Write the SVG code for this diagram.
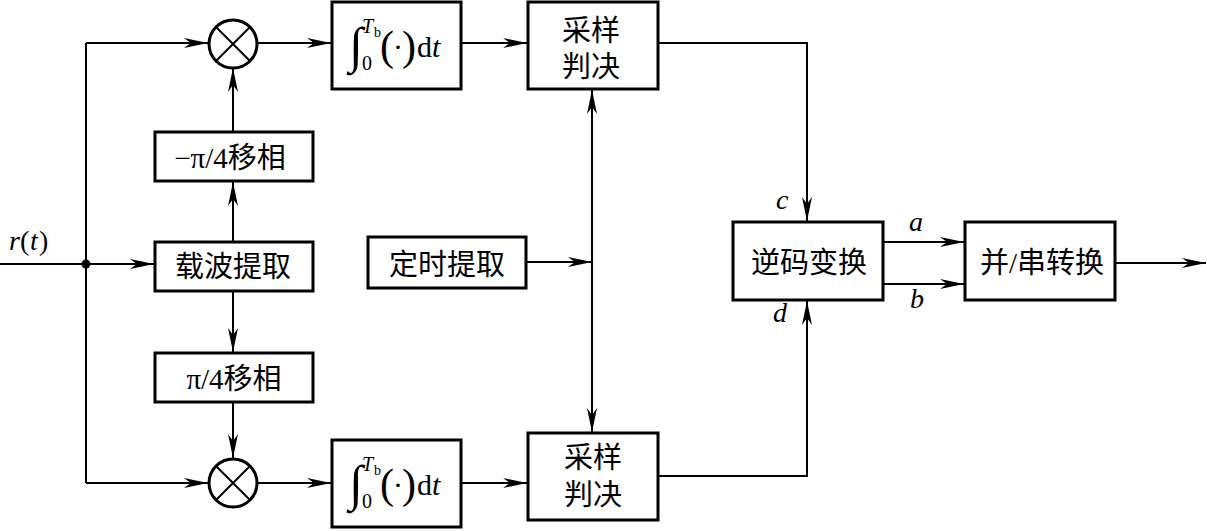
<svg xmlns="http://www.w3.org/2000/svg" width="1207" height="531" viewBox="0 0 1207 531">
<style>
.box{fill:#fff;stroke:#000;stroke-width:3}
.ln{fill:none;stroke:#000;stroke-width:2}
.cn{font-family:'Liberation Serif','Noto Sans CJK SC',serif;font-size:29px;fill:#000;text-anchor:middle}
.it{font-family:'Liberation Serif','DejaVu Serif',serif;font-style:italic;font-size:28px;fill:#000}
.rm{font-family:'Liberation Serif','DejaVu Serif',serif;fill:#000}
</style>
<defs>
<marker id="ar" markerUnits="userSpaceOnUse" markerWidth="26" markerHeight="12" viewBox="-24 -6 26 12" refX="0" refY="0" orient="auto">
<path d="M0,0 L-24,-5 L-17,0 L-24,5 Z" fill="#000"/>
</marker>
</defs>
<rect width="1207" height="531" fill="#fff"/>
<g id="connectors" class="ln">
<line x1="0" y1="264" x2="154" y2="264" marker-end="url(#ar)"/>
<line x1="86" y1="43" x2="86" y2="483"/>
<line x1="86" y1="43" x2="208" y2="43" marker-end="url(#ar)"/>
<line x1="86" y1="483" x2="208" y2="483" marker-end="url(#ar)"/>
<line x1="257" y1="43" x2="331" y2="43" marker-end="url(#ar)"/>
<line x1="257" y1="483" x2="331" y2="483" marker-end="url(#ar)"/>
<line x1="461" y1="43" x2="527" y2="43" marker-end="url(#ar)"/>
<line x1="461" y1="483" x2="527" y2="483" marker-end="url(#ar)"/>
<line x1="233" y1="242" x2="233" y2="182" marker-end="url(#ar)"/>
<line x1="233" y1="132" x2="233" y2="68" marker-end="url(#ar)"/>
<line x1="233" y1="291" x2="233" y2="352" marker-end="url(#ar)"/>
<line x1="233" y1="402" x2="233" y2="458" marker-end="url(#ar)"/>
<line x1="526" y1="262" x2="592" y2="262" marker-end="url(#ar)"/>
<line x1="592" y1="262" x2="592" y2="90" marker-end="url(#ar)"/>
<line x1="592" y1="262" x2="592" y2="432" marker-end="url(#ar)"/>
<polyline points="658,43 807,43 807,221" marker-end="url(#ar)"/>
<polyline points="658,476 807,476 807,301" marker-end="url(#ar)"/>
<line x1="883" y1="242" x2="964" y2="242" marker-end="url(#ar)"/>
<line x1="883" y1="284" x2="964" y2="284" marker-end="url(#ar)"/>
<line x1="1115" y1="263" x2="1206" y2="263" marker-end="url(#ar)"/>
<circle cx="86" cy="264" r="4.5" fill="#000" stroke="none"/>
</g>
<g id="mult-top">
<circle cx="233" cy="44" r="24" fill="#fff" stroke="#000" stroke-width="3"/>
<path d="M216,27 L250,61 M250,27 L216,61" stroke="#000" stroke-width="2"/>
</g>
<g id="mult-bottom">
<circle cx="233" cy="483" r="24" fill="#fff" stroke="#000" stroke-width="3"/>
<path d="M216,466 L250,500 M250,466 L216,500" stroke="#000" stroke-width="2"/>
</g>
<g id="int-top">
<rect class="box" x="332" y="2" width="129" height="87"/>
<text class="rm" x="349" y="62" font-size="50">∫</text>
<text class="rm" x="362" y="70" font-size="20">0</text>
<text class="rm" x="362" y="33" font-size="20" font-style="italic">T</text>
<text class="rm" x="374" y="37" font-size="14">b</text>
<text class="rm" x="380" y="60" font-size="42">(</text>
<text class="rm" x="393" y="57" font-size="30">·</text>
<text class="rm" x="402" y="60" font-size="42">)</text>
<text class="rm" x="417" y="57" font-size="30">d</text>
<text class="rm" x="432" y="57" font-size="30" font-style="italic">t</text>
</g>
<g id="int-bottom">
<rect class="box" x="332" y="440" width="129" height="87"/>
<text class="rm" x="349" y="500" font-size="50">∫</text>
<text class="rm" x="362" y="508" font-size="20">0</text>
<text class="rm" x="362" y="471" font-size="20" font-style="italic">T</text>
<text class="rm" x="374" y="475" font-size="14">b</text>
<text class="rm" x="380" y="498" font-size="42">(</text>
<text class="rm" x="393" y="495" font-size="30">·</text>
<text class="rm" x="402" y="498" font-size="42">)</text>
<text class="rm" x="417" y="495" font-size="30">d</text>
<text class="rm" x="432" y="495" font-size="30" font-style="italic">t</text>
</g>
<g id="sample-top">
<rect class="box" x="528" y="2" width="130" height="87"/>
<text class="cn" x="591" y="41">采样</text>
<text class="cn" x="591" y="77">判决</text>
</g>
<g id="sample-bottom">
<rect class="box" x="528" y="433" width="130" height="87"/>
<text class="cn" x="593" y="468">采样</text>
<text class="cn" x="593" y="505">判决</text>
</g>
<g id="shift-neg">
<rect class="box" x="155" y="132" width="158" height="49"/>
<text class="cn" x="230" y="168">−π/4移相</text>
</g>
<g id="carrier">
<rect class="box" x="155" y="242" width="158" height="49"/>
<text class="cn" x="233" y="277">载波提取</text>
</g>
<g id="shift-pos">
<rect class="box" x="155" y="353" width="158" height="49"/>
<text class="cn" x="234" y="389">π/4移相</text>
</g>
<g id="timing">
<rect class="box" x="368" y="237" width="158" height="51"/>
<text class="cn" x="447" y="275">定时提取</text>
</g>
<g id="inverse">
<rect class="box" x="733" y="222" width="150" height="78"/>
<text class="cn" x="809" y="273">逆码变换</text>
</g>
<g id="ps">
<rect class="box" x="965" y="222" width="150" height="78"/>
<text class="cn" x="1042" y="273">并/串转换</text>
</g>
<g id="labels">
<text class="it" x="9" y="250">r</text><text class="rm" x="20" y="250" font-size="28">(</text><text class="it" x="30" y="250">t</text><text class="rm" x="39" y="250" font-size="28">)</text>
<text class="it" x="776" y="209">c</text>
<text class="it" x="773" y="322">d</text>
<text class="it" x="909" y="231">a</text>
<text class="it" x="910" y="308">b</text>
</g>
</svg>
